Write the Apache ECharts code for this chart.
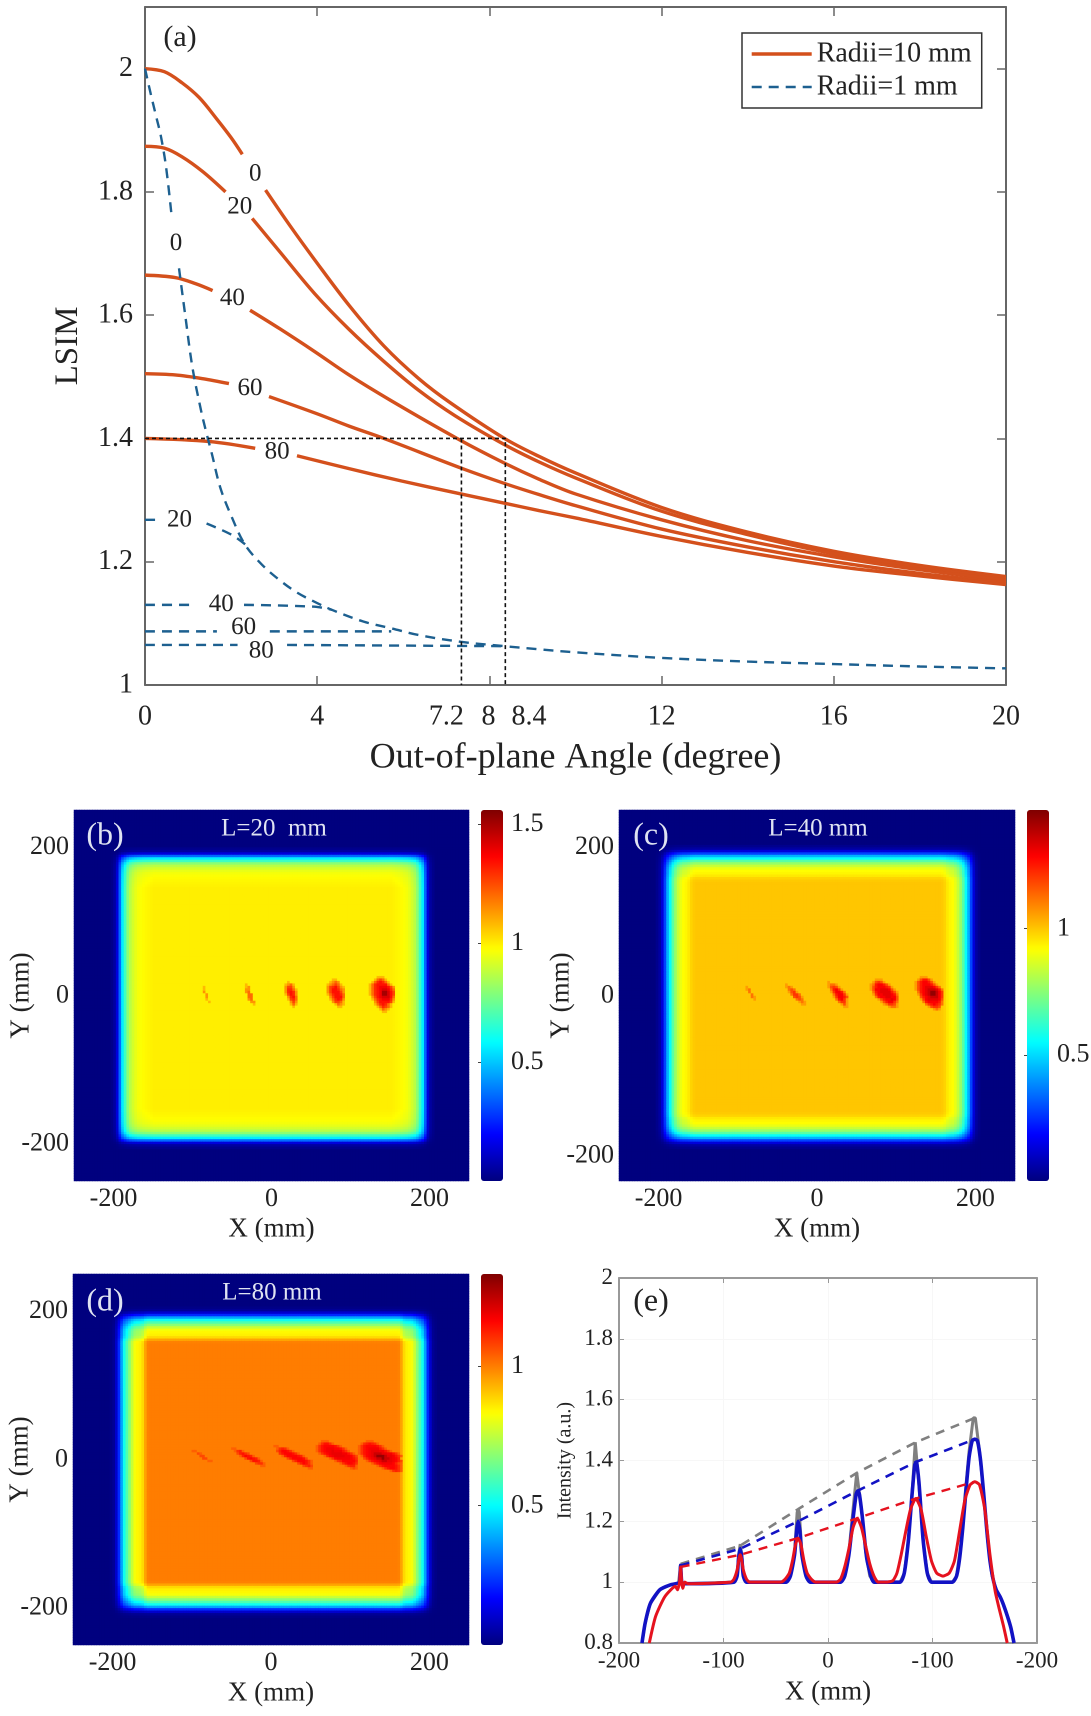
<!DOCTYPE html>
<html><head><meta charset="utf-8">
<style>html,body{margin:0;padding:0;background:#fff}#c{width:1091px;height:1716px}</style>
<script src="https://cdn.jsdelivr.net/npm/echarts@6/dist/echarts.min.js"></script>
</head><body><div id="c"></div>
<script>
// ---------- panel (a) : [angle, LSIM]; null = gap left for the contour label
const r10_0  = [[0,2],[.45,1.995],[.86,1.977],[1.26,1.953],[1.67,1.918],[2,1.888],[2.26,1.861],null,[2.8,1.803],[3.37,1.745],[3.94,1.69],[4.74,1.616],[5.55,1.55],[6.36,1.497],[7.09,1.458],[8.35,1.4],[9.15,1.371],[10,1.344],[12,1.288],[14,1.248],[16,1.217],[18,1.194],[20,1.176]];
const r10_20 = [[0,1.874],[.45,1.871],[.86,1.857],[1.34,1.833],[1.87,1.8],null,[2.49,1.757],[3.13,1.703],[3.94,1.635],[4.74,1.577],[5.55,1.525],[6.36,1.478],[7.2,1.437],[8.35,1.39],[9.15,1.362],[10,1.336],[12,1.282],[14,1.244],[16,1.213],[18,1.191],[20,1.173]];
const r10_40 = [[0,1.665],[.7,1.661],[1.18,1.651],[1.57,1.64],null,[2.44,1.608],[3.13,1.578],[3.94,1.541],[4.74,1.503],[5.7,1.462],[7.25,1.4],[8.35,1.36],[9.15,1.334],[10,1.31],[12,1.268],[14,1.234],[16,1.208],[18,1.187],[20,1.17]];
const r10_60 = [[0,1.505],[.7,1.503],[1.34,1.497],[1.95,1.489],null,[2.88,1.468],[4,1.44],[4.74,1.42],[5.55,1.4],[7.34,1.352],[8.35,1.327],[9.15,1.309],[10,1.291],[12,1.253],[14,1.224],[16,1.2],[18,1.181],[20,1.166]];
const r10_80 = [[0,1.4],[1.5,1.395],[2.56,1.384],null,[3.53,1.372],[4.74,1.351],[5.96,1.331],[7.34,1.31],[8.35,1.295],[9.15,1.283],[10,1.271],[12,1.241],[14,1.215],[16,1.193],[18,1.177],[20,1.163]];
const r1_0   = [[0,2],[.13,1.96],[.25,1.925],[.37,1.89],[.49,1.84],[.62,1.76],null,[.79,1.676],[.94,1.597],[1.1,1.516],[1.3,1.446],[1.43,1.408],[1.55,1.376],[1.75,1.32],[2,1.275],[2.32,1.228],[2.72,1.195],[3.13,1.17],[3.53,1.15],[3.94,1.135],[4.34,1.122],[5.07,1.103],[5.72,1.092],[6.36,1.081],[7.34,1.07],[8.35,1.063],[9.15,1.058],[10,1.053],[12,1.044],[14,1.038],[16,1.034],[18,1.03],[20,1.027]];
const r1_20  = [[0,1.268],[.25,1.268],null,[1.43,1.262],[2.03,1.243],[2.4,1.224]];
const r1_40  = [[0,1.13],[1.18,1.13],null,[2.3,1.13],[3.94,1.127],[4.34,1.122]];
const r1_60  = [[0,1.087],[1.67,1.087],null,[2.9,1.087],[5.72,1.087]];
const r1_80  = [[0,1.065],[2.15,1.065],null,[3.3,1.065],[8.35,1.063]];
const guide14  = [[0,1.4],[8.37,1.4],[8.37,1]];
const guide72  = [[7.35,1.4],[7.35,1]];
const contourLabels = [[2.56,1.829,'0'],[2.2,1.776,'20'],[.72,1.716,'0'],[2.03,1.627,'40'],[2.44,1.481,'60'],[3.07,1.378,'80'],[.8,1.268,'20'],[1.77,1.131,'40'],[2.29,1.093,'60'],[2.7,1.055,'80']];
const aXLabelAt   = [0,4,7,7.98,8.92,12,16,20];
const aXLabelText = ['0','4','7.2','8','8.4','12','16','20'];
const aXTicks  = [0,4,8,12,16,20];
const aYTicks  = [1,1.2,1.4,1.6,1.8,2];

// ---------- panels (b,c,d) : intensity maps on a 150 x 150 cell grid
const CELLS = 150;
// values read inward from the dark border of each map, one per cell
const bEdge = [.02,.05,.14,.36,.56,.68,.8,.87,.91,.94,.96,.97,.98,.985,.99,.995];
const cEdge = [.02,.05,.13,.28,.44,.56,.68,.77,.84,.89,.92,.93,.95,.98,.995];
const dEdge = [.01,.03,.1,.22,.38,.52,.6,.68,.76,.82,.84,.85,.88,.95,.995];
// dark border width in cells: left, right, top, bottom
const bBorder = [14,13,15,13];
const cBorder = [14,13,14,13];
const dBorder = [14,12,13,11];
// value of each level character used by the spot tables
const bLevels = {1:1.08,2:1.14,3:1.2,4:1.26,5:1.3,6:1.34,7:1.38,8:1.42,9:1.5};
const cLevels = {1:1.06,2:1.12,3:1.17,4:1.21,5:1.25,6:1.29,7:1.32,8:1.36,9:1.44};
const dLevels = {1:1.04,2:1.07,3:1.1,4:1.12,5:1.14,6:1.16,7:1.175,8:1.19,9:1.23,a:1.3};
// spots: [x mm, y mm, rows top to bottom]
const bSpots = [
 [-84,-1,["1..","1..","2..",".2.",".2.",".1.","..1"]],
 [-28,-1,["1...","12..","22..","23..",".33.",".33.",".23.","..22","...1"]],
 [28,0,[".1....","1231..","2442..","25531.","25652.","14652.",".2563.",".1453.","..242.","..131.","...1.."]],
 [83,0,["..11....",".1232...","123431..","2456421.","2466532.","2466642.","1356653.",".246663.",".135652.","..24431.","...1321.","....11.."]],
 [140,0,["...111....","..13431...",".1356531..","135666631.","1356777642","1356788753","1356799864","1356799864",".246788863",".135677752","..24666641","..1356531.","...135431.","....1321..",".....11..."]]
];
const cSpots = [
 [-85,1,["1....","12...",".2...","..2..","..21.","...1."]],
 [-28,0,["1.......","121.....",".232....",".1341...","..2442..","...3431.","....232.",".....121","......11"]],
 [28,0,["1........","1221.....","13431....",".25641...",".146652..","..256641.","..146653.","...25641.","....2441.",".....131.","......11."]],
 [84,1,["..111......",".13431.....","12566531...","135666541..","1366777631.",".2567777531",".1466777652","..256677663","...13566763","....1356642",".....124431",".......1221"]],
 [139,0,["..111......",".135531....","13566531...","135666531..","1356777642.","13567888752",".2567899864",".1467899864","..356788864","..146777763","...25666652","....2456542",".....13443.",".......121."]]
];
const dSpots = [
 [-86,3,["11......","..21....","...22...","....22..","......11"]],
 [-29,0,["11...........",".1341........","..24532......","...146541....",".....256541..",".......25541.",".........2331","...........11"]],
 [28,0,["11.............",".13431.........",".2466531.......","..35666531.....","...146666541...",".....24666652..",".......24666531",".........246531","...........2342",".............11"]],
 [83,2,["..111...........",".135531.........","1356666531......","135677766531....","1356778777531...",".13567888877531.","...1467888877642",".....13677777653",".......134666664",".........1356653","...........13441",".............121"]],
 [135,2,["...111...........",".1345431.........","1356666531.......","13567777531......","1356788877531....","1356789998877531.",".146789aaa9887531","..2467899a998764.","...13567899887642",".....135677776421",".......1356666531",".........13566531","............13431"]]
];
const bRange = 1.56, cRange = 1.47, dRange = 1.33;
const mapXLabels = [-200,0,200];
const bYLabels = [-200,0,200];
const cYLabels = [-216,0,200];   // the "-200" of panel (c) sits lower in the picture
const dYLabels = [-200,0,200];
const bBarLabels = [.5,1,1.5], cBarLabels = [.5,1], dBarLabels = [.5,1];
const jet = ['#00007f','#0000ff','#007fff','#00ffff','#7fff7f','#ffff00','#ff7f00','#ff0000','#7f0000'];

// ---------- panel (e) : [x, intensity]
const eGray = [[-178,.8],[-175,.865],[-170,.93],[-161,.975],[-151,.991],[-143,.997],[-142,1],[-141,1.06],[-140,1],[-138,.995],[-90,1],[-87,1.02],[-85.5,1.09],[-84,1.125],[-82.5,1.09],[-81,1.02],[-78,1],[-40,1],[-36,1.02],[-32,1.1],[-29.5,1.23],[-28.5,1.24],[-27.5,1.23],[-25,1.1],[-21,1.02],[-17,1],[12,1],[16,1.02],[20,1.1],[24,1.24],[27.5,1.36],[28.5,1.36],[32,1.24],[36,1.1],[40,1.02],[44,1],[69,1],[73,1.03],[77,1.14],[81,1.32],[83.5,1.46],[84.5,1.46],[87,1.32],[91,1.14],[95,1.03],[99,1],[119,1],[123,1.02],[127,1.12],[131,1.28],[135,1.43],[139,1.54],[141,1.54],[145,1.43],[149,1.29],[153,1.13],[157,1.02],[161,.975],[165,.95],[168,.925],[172,.885],[175,.85],[178,.8]];
const eBlue = [[-178,.8],[-175,.865],[-170,.93],[-161,.975],[-151,.991],[-143,.997],[-142,1],[-141,1.055],[-140,1],[-138,.995],[-90,1],[-87,1.02],[-85.5,1.08],[-84,1.11],[-82.5,1.08],[-81,1.02],[-78,1],[-40,1],[-36,1.02],[-32,1.09],[-30,1.17],[-28.6,1.2],[-27,1.17],[-25,1.09],[-21,1.02],[-17,1],[12,1],[16,1.02],[20,1.09],[24,1.21],[27,1.29],[28.5,1.3],[30,1.29],[33,1.21],[37,1.08],[41,1.02],[44,1],[69,1],[73,1.03],[77,1.14],[80,1.27],[83,1.385],[84.5,1.395],[87,1.33],[91,1.14],[95,1.03],[99,1],[119,1],[123,1.02],[126,1.08],[129,1.18],[132,1.3],[135,1.41],[138,1.465],[140.5,1.47],[143,1.465],[146,1.4],[149,1.29],[152,1.17],[155,1.07],[158,1.01],[161,.975],[165,.95],[168,.925],[172,.885],[175,.85],[178,.8]];
const eRed = [[-171,.8],[-165,.887],[-156,.953],[-146,.986],[-144,.975],[-143,.985],[-142,1],[-141,1.05],[-140,1],[-139,.98],[-137,1],[-134,.995],[-93,1],[-90,1.01],[-87,1.04],[-85,1.08],[-84,1.09],[-83,1.08],[-81,1.04],[-78,1.01],[-75,1],[-45,1],[-41,1.01],[-37,1.03],[-34,1.07],[-31,1.125],[-28.6,1.145],[-26,1.125],[-23,1.07],[-20,1.03],[-16,1.01],[-12,1],[8,1],[12,1.01],[16,1.05],[20,1.11],[24,1.18],[28,1.21],[32,1.18],[36,1.12],[40,1.06],[44,1.02],[48,1],[55,1],[62,1.005],[66,1.03],[70,1.09],[74,1.16],[79,1.24],[84,1.275],[89,1.24],[94,1.15],[99,1.07],[104,1.03],[110,1.02],[116,1.03],[121,1.07],[126,1.17],[131,1.27],[136,1.32],[140.5,1.33],[145,1.32],[150,1.24],[155,1.09],[160,.97],[164,.91],[168,.855],[171.5,.8]];
const eGrayEnv = [[-141,1.06],[-84,1.12],[-28.6,1.24],[28,1.36],[84,1.46],[140.5,1.54]];
const eBlueEnv = [[-141,1.055],[-84,1.11],[-28.6,1.2],[28,1.3],[84,1.395],[140.5,1.47]];
const eRedEnv  = [[-141,1.05],[-84,1.09],[-28.6,1.145],[28,1.21],[84,1.275],[140.5,1.33]];
const eXTicks = [-200,-100,0,100,200];
const eXLabels = ['-200','-100','0','-100','-200'];

// ---------- building ----------
const FONT = '"Liberation Serif"';
const INK = '#222';
function profile(edge, low, high){
  const p = new Array(CELLS).fill(1);
  for(let k=0;k<low;k++) p[k]=0;
  for(let k=0;k<high;k++) p[CELLS-1-k]=0;
  edge.forEach((v,k)=>{p[low+k]=v; p[CELLS-1-high-k]=v;});
  return p;
}
function buildMap(edge,border,spots,levels){
  const px=profile(edge,border[0],border[1]), py=profile(edge,border[3],border[2]);
  const m=[]; for(let i=0;i<CELLS;i++){m.push(new Array(CELLS)); for(let j=0;j<CELLS;j++) m[i][j]=px[i]*py[j];}
  spots.forEach(([x,y,rows])=>{
    const ci=Math.round((x+250)/500*CELLS), cj=Math.round((y+250)/500*CELLS);
    const w=rows[0].length,h=rows.length;
    rows.forEach((r,ri)=>{for(let k=0;k<w;k++){const c=r[k]; if(c!=='.'&&c!==undefined){m[ci-(w>>1)+k][cj+(h>>1)-ri]=levels[c];}}});
  });
  const out=[]; for(let i=0;i<CELLS;i++)for(let j=0;j<CELLS;j++) out.push([i,j,m[i][j]]);
  return out;
}
const cellNames=[...Array(CELLS).keys()];
const grids=[],xAxes=[],yAxes=[],series=[],vms=[];
const GRAY='#666';
function addGrid(l,t,r,b){grids.push({left:l,top:t,width:r-l,height:b-t,containLabel:false,outerBoundsMode:'none'});return grids.length-1;}

// panel a
const ga=addGrid(145,7,1006,685);
const lab=(s)=>({fontFamily:FONT,fontSize:s,color:INK});
const line2={show:true,lineStyle:{color:GRAY,width:2},onZero:false};
xAxes.push({gridIndex:ga,type:'value',min:0,max:20,position:'bottom',axisLine:line2,splitLine:{show:false},
  axisTick:{show:true,inside:true,length:9,lineStyle:{color:GRAY,width:1.5},customValues:aXTicks},
  axisLabel:{...lab(28),margin:18,customValues:aXLabelAt,hideOverlap:false,formatter:v=>aXLabelText[aXLabelAt.indexOf(v)]},
  name:'Out-of-plane Angle (degree)',nameLocation:'middle',nameGap:55,nameMoveOverlap:false,nameTextStyle:lab(36)});
const xaBase=xAxes.length-1;
xAxes.push({gridIndex:ga,type:'value',min:0,max:20,position:'top',axisLine:line2,splitLine:{show:false},
  axisTick:{show:true,inside:true,length:9,lineStyle:{color:GRAY,width:1.5},customValues:aXTicks},axisLabel:{show:false}});
yAxes.push({gridIndex:ga,type:'value',min:1,max:2.1,position:'left',axisLine:line2,splitLine:{show:false},
  axisTick:{show:true,inside:true,length:9,lineStyle:{color:GRAY,width:1.5},customValues:aYTicks},
  axisLabel:{...lab(28),margin:12,customValues:aYTicks},
  name:'LSIM',nameLocation:'middle',nameRotate:90,nameGap:60,nameMoveOverlap:false,nameTextStyle:lab(33)});
const yaBase=yAxes.length-1;
yAxes.push({gridIndex:ga,type:'value',min:1,max:2.1,position:'right',axisLine:line2,splitLine:{show:false},
  axisTick:{show:true,inside:true,length:9,lineStyle:{color:GRAY,width:1.5},customValues:aYTicks},axisLabel:{show:false}});
const ORANGE='#d4501c',TEAL='#1d6090';
const lineSeries=(name,data,color,width,extra,xi,yi)=>({type:'line',name,data:data.map(p=>p===null?[null,null]:p),xAxisIndex:xi,yAxisIndex:yi,showSymbol:false,symbol:'none',
  connectNulls:false,silent:true,clip:true,lineStyle:{color,width,...(extra||{})},itemStyle:{color},smooth:false});
[r10_0,r10_20,r10_40,r10_60,r10_80].forEach(d=>{const s=lineSeries('Radii=10 mm',d,ORANGE,3.4,null,xaBase,yaBase);s.smooth=.35;series.push(s);});
[r1_0,r1_20,r1_40,r1_60,r1_80].forEach(d=>{const s=lineSeries('Radii=1 mm',d,TEAL,2.4,{type:[10,7]},xaBase,yaBase);s.smooth=.35;series.push(s);});
series.push(lineSeries('guide a',guide14,'#111',1.6,{type:[4,3]},xaBase,yaBase));
series.push(lineSeries('guide b',guide72,'#111',1.6,{type:[4,3]},xaBase,yaBase));
series.push({type:'scatter',name:'contour labels',data:contourLabels,xAxisIndex:xaBase,yAxisIndex:yaBase,symbolSize:0,silent:true,itemStyle:{opacity:1},
  label:{show:true,position:'inside',formatter:p=>p.value[2],...lab(25),opacity:1}});

// map panels
function addMap(l,t,r,b,barL,barR,range,edge,border,spots,levels,yLabs,barLabs,yGap){
  const g=addGrid(l,t,r,b);
  const xc=xAxes.length; xAxes.push({gridIndex:g,type:'category',data:cellNames,show:false});
  const yc=yAxes.length; yAxes.push({gridIndex:g,type:'category',data:cellNames,show:false});
  xAxes.push({gridIndex:g,type:'value',min:-250,max:250,position:'bottom',axisLine:{show:false},axisTick:{show:false},splitLine:{show:false},
    axisLabel:{...lab(26),margin:5,customValues:mapXLabels,showMinLabel:true,showMaxLabel:true},
    name:'X (mm)',nameLocation:'middle',nameGap:35,nameMoveOverlap:false,nameTextStyle:lab(27)});
  yAxes.push({gridIndex:g,type:'value',min:-250,max:250,position:'left',axisLine:{show:false},axisTick:{show:false},splitLine:{show:false},
    axisLabel:{...lab(26),margin:5,customValues:yLabs,formatter:v=>v<-200?'-200':String(v)},
    name:'Y (mm)',nameLocation:'middle',nameRotate:90,nameGap:yGap,nameMoveOverlap:false,nameTextStyle:lab(27)});
  const si=series.length;
  series.push({type:'heatmap',name:'map'+g,data:buildMap(edge,border,spots,levels),xAxisIndex:xc,yAxisIndex:yc,silent:true,progressive:0,
    itemStyle:{borderWidth:0},emphasis:{disabled:true}});
  vms.push({type:'continuous',seriesIndex:si,dimension:2,min:0,max:range,calculable:false,hoverLink:false,show:true,left:barL,top:t,itemWidth:barR-barL,itemHeight:b-t,padding:0,
    inRange:{color:jet},text:null,textStyle:{fontSize:0}});
  const gb=addGrid(barL,t,barR,b);
  xAxes.push({gridIndex:gb,type:'value',min:0,max:1,show:false});
  yAxes.push({gridIndex:gb,type:'value',min:0,max:range,position:'right',axisLine:{show:false},splitLine:{show:false},
    axisTick:{show:true,inside:true,length:3,lineStyle:{color:'#444',width:1},customValues:barLabs},
    axisLabel:{...lab(26),margin:8,customValues:barLabs,formatter:v=>String(v)},z:5});
}
addMap(74,810,469,1181,481,503,bRange,bEdge,bBorder,bSpots,bLevels,bYLabels,bBarLabels,39);
addMap(619,810,1015,1181,1027,1049,cRange,cEdge,cBorder,cSpots,cLevels,cYLabels,cBarLabels,44);
addMap(73,1274,469,1645,481,503,dRange,dEdge,dBorder,dSpots,dLevels,dYLabels,dBarLabels,39);

// panel e
const ge=addGrid(619,1278,1037,1643);
const EG='#999';
const exi=xAxes.length;
xAxes.push({gridIndex:ge,type:'value',min:-200,max:200,interval:100,position:'bottom',axisLine:{show:true,lineStyle:{color:EG,width:2},onZero:false},
  splitLine:{show:true,lineStyle:{color:'#f7f7f7',width:1}},axisTick:{show:true,inside:true,length:5,lineStyle:{color:EG}},
  axisLabel:{...lab(23),margin:7,formatter:v=>eXLabels[eXTicks.indexOf(v)]},
  name:'X (mm)',nameLocation:'middle',nameGap:36,nameMoveOverlap:false,nameTextStyle:lab(27)});
xAxes.push({gridIndex:ge,type:'value',min:-200,max:200,interval:100,position:'top',axisLine:{show:true,lineStyle:{color:EG,width:2},onZero:false},splitLine:{show:false},
  axisTick:{show:true,inside:true,length:5,lineStyle:{color:EG}},axisLabel:{show:false}});
const eyi=yAxes.length;
yAxes.push({gridIndex:ge,type:'value',min:.8,max:2,interval:.2,position:'left',axisLine:{show:true,lineStyle:{color:EG,width:2},onZero:false},
  splitLine:{show:true,lineStyle:{color:'#f7f7f7',width:1}},axisTick:{show:true,inside:true,length:5,lineStyle:{color:EG}},
  axisLabel:{...lab(23),margin:6,formatter:v=>String(+v.toFixed(1))},
  name:'Intensity (a.u.)',nameLocation:'middle',nameRotate:90,nameGap:44,nameMoveOverlap:false,nameTextStyle:lab(20)});
yAxes.push({gridIndex:ge,type:'value',min:.8,max:2,interval:.2,position:'right',axisLine:{show:true,lineStyle:{color:EG,width:2},onZero:false},splitLine:{show:false},
  axisTick:{show:true,inside:true,length:5,lineStyle:{color:EG}},axisLabel:{show:false}});
const G2='#808080',B2='#1212c4',R2='#e5121f';
series.push(lineSeries('gray',eGray,G2,3,null,exi,eyi));
series.push(lineSeries('gray env',eGrayEnv,G2,2.6,{type:[9,7]},exi,eyi));
const eb=lineSeries('blue',eBlue,B2,3.6,null,exi,eyi); eb.smooth=.2; series.push(eb);
series.push(lineSeries('blue env',eBlueEnv,B2,2.6,{type:[9,7]},exi,eyi));
const er=lineSeries('red',eRed,R2,3,null,exi,eyi); er.smooth=.2; series.push(er);
series.push(lineSeries('red env',eRedEnv,R2,2.4,{type:[9,7]},exi,eyi));

const tag=(text,x,y,size,color)=>({type:'text',x,y,z:50,style:{text,fontFamily:FONT,fontSize:size,fill:color,align:'center',verticalAlign:'middle'}});
const WH='#dfe3f2';
const chart=echarts.init(document.getElementById('c'),null,{renderer:'canvas',devicePixelRatio:2});
chart.setOption({
  animation:false,backgroundColor:'#fff',
  grid:grids,xAxis:xAxes,yAxis:yAxes,series,visualMap:vms,tooltip:{show:false},
  legend:{show:true,left:742,top:33,orient:'vertical',selectedMode:false,itemWidth:60,itemHeight:20,itemGap:5,padding:[7,10,7,8],
    borderColor:'#333',borderWidth:1.5,backgroundColor:'#fff',
    data:[{name:'Radii=10 mm',lineStyle:{width:3.4,color:ORANGE}},{name:'Radii=1 mm',lineStyle:{width:2.4,color:TEAL,type:[10,7]}}],
    itemStyle:{opacity:0,borderWidth:0},textStyle:lab(28)},
  graphic:[
    tag('(a)',180,38,30,INK),
    tag('(b)',105,836,32,WH),tag('L=20  mm',274,829,25,WH),
    tag('(c)',651,836,32,WH),tag('L=40 mm',818,829,25,WH),
    tag('(d)',105,1302,32,WH),tag('L=80 mm',272,1293,25,WH),
    tag('(e)',651,1302,32,INK)
  ]
});
</script></body></html>
